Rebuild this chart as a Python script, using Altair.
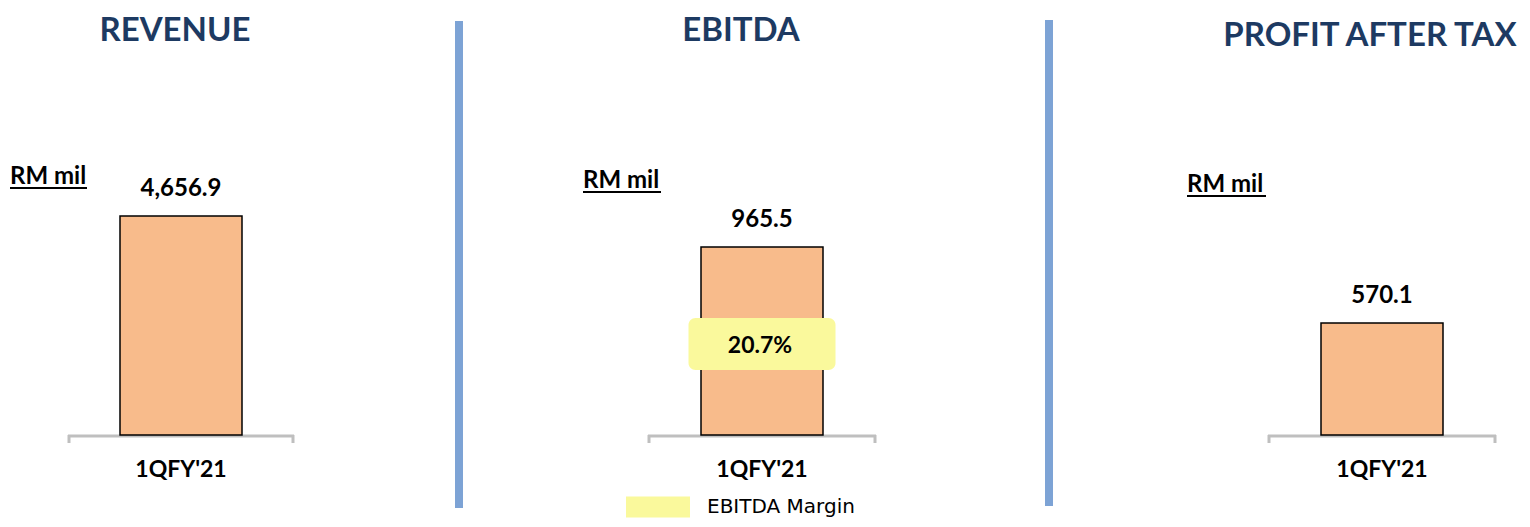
import altair as alt
import pandas as pd

# ---------------- data ----------------
panels = ["REVENUE", "EBITDA", "PROFIT AFTER TAX"]
periods = ["1QFY'21"]
revenue = [4656.9]
ebitda = [965.5]
profit_after_tax = [570.1]
revenue_labels = ["4,656.9"]
ebitda_labels = ["965.5"]
pat_labels = ["570.1"]
ebitda_margin = [20.7]
ebitda_margin_labels = ["20.7%"]
legend_labels = ["EBITDA Margin"]
unit_label = "RM mil"

# ---------------- styling / layout ----------------
FONT = "Lato"
NAVY = "#1D3A62"
BAR_FILL = "#F8BB8B"
YELLOW = "#FAF99C"
DIVIDER = "#7DA3D5"
BRACKET = "#BFBFBF"
BASE_Y = 427

layout = {
    "REVENUE": dict(x0=60, x1=286, ymax=9080, tx=167, ty=33, ux0=2, ux1=79, uy=176),
    "EBITDA": dict(x0=640, x1=868, ymax=2193, tx=733, ty=33, ux0=575, ux1=653, uy=180),
    "PROFIT AFTER TAX": dict(x0=1260, x1=1488, ymax=2175, tx=1362, ty=38, ux0=1179, ux1=1258, uy=184),
}

one = pd.DataFrame({"k": [0]})


def panel(name, values, labels, extra=None):
    L = layout[name]
    df = pd.DataFrame({"period": periods, "value": values, "label": labels})
    xenc = alt.X("period:N", axis=None,
                 scale=alt.Scale(range=[L["x0"], L["x1"]], paddingInner=0, paddingOuter=0))
    yenc = alt.Y("value:Q", axis=None,
                 scale=alt.Scale(domain=[0, L["ymax"]], range=[BASE_Y, 0], nice=False, zero=True))
    base = alt.Chart(df).encode(x=xenc, y=yenc)

    bars = base.mark_bar(size=122, fill=BAR_FILL, stroke="#000000", strokeWidth=1.5)
    vals = base.mark_text(dy=-20, baseline="alphabetic", font=FONT, fontWeight="bold",
                          fontSize=24, color="#000000").encode(text="label:N")
    cats = alt.Chart(df).mark_text(baseline="alphabetic", font=FONT, fontWeight="bold",
                                   fontSize=23, color="#000000").encode(
        x=xenc, y=alt.value(469), text="period:N")

    bracket = alt.Chart(one).mark_rule(color=BRACKET, strokeWidth=3).encode(
        x=alt.value(L["x0"]), x2=alt.value(L["x1"]), y=alt.value(BASE_Y + 1))
    tick_l = alt.Chart(one).mark_rule(color=BRACKET, strokeWidth=3).encode(
        x=alt.value(L["x0"] + 1), y=alt.value(BASE_Y), y2=alt.value(BASE_Y + 8))
    tick_r = alt.Chart(one).mark_rule(color=BRACKET, strokeWidth=3).encode(
        x=alt.value(L["x1"] - 1), y=alt.value(BASE_Y), y2=alt.value(BASE_Y + 8))

    title = alt.Chart(pd.DataFrame({"t": [name]})).mark_text(
        baseline="alphabetic", align="center", font=FONT, fontWeight="bold", fontSize=33,
        color=NAVY).encode(x=alt.value(L["tx"]), y=alt.value(L["ty"]), text="t:N")

    unit = alt.Chart(pd.DataFrame({"u": [unit_label]})).mark_text(
        baseline="alphabetic", align="left", font=FONT, fontWeight="bold", fontSize=24,
        color="#000000").encode(x=alt.value(L["ux0"]), y=alt.value(L["uy"]), text="u:N")
    underline = alt.Chart(one).mark_rule(color="#000000", strokeWidth=2).encode(
        x=alt.value(L["ux0"]), x2=alt.value(L["ux1"]), y=alt.value(L["uy"] + 4))

    layers = [bracket, tick_l, tick_r, bars, vals, cats, title, unit, underline]
    if extra is not None:
        layers += extra(xenc)
    return alt.layer(*layers)


def ebitda_extra(xenc):
    dm = pd.DataFrame({"period": periods, "margin": ebitda_margin,
                       "label": ebitda_margin_labels, "series": legend_labels})
    box = alt.Chart(dm).mark_bar(size=147, cornerRadius=7).encode(
        x=xenc, y=alt.value(310), y2=alt.value(362),
        color=alt.Color("series:N", scale=alt.Scale(domain=legend_labels, range=[YELLOW]),
                        legend=alt.Legend(title=None, orient="none", legendX=618, legendY=467,
                                          symbolType="M-1,-0.33H1V0.33H-1Z", symbolSize=4096,
                                          symbolStrokeWidth=0, symbolOpacity=1,
                                          labelFont="DejaVu Sans", labelFontSize=20,
                                          labelColor="#000000", labelOffset=17)))
    txt = alt.Chart(dm).mark_text(baseline="alphabetic", font=FONT, fontWeight="bold",
                                  fontSize=23, color="#000000", dx=-2).encode(
        x=xenc, y=alt.value(345), text="label:N")
    return [box, txt]


div1 = alt.Chart(one).mark_rule(color=DIVIDER, strokeWidth=8).encode(
    x=alt.value(451), y=alt.value(13), y2=alt.value(500))
div2 = alt.Chart(one).mark_rule(color=DIVIDER, strokeWidth=8).encode(
    x=alt.value(1041), y=alt.value(12), y2=alt.value(498))

p1 = panel("REVENUE", revenue, revenue_labels)
p2 = panel("EBITDA", ebitda, ebitda_labels, ebitda_extra)
p3 = panel("PROFIT AFTER TAX", profit_after_tax, pat_labels)

chart = alt.layer(div1, div2, p1, p2, p3).resolve_scale(
    x="independent", y="independent"
).properties(
    width=1514, height=511, padding=0,
    autosize=alt.AutoSizeParams(type="none"),
    background="#FFFFFF",
).configure_view(stroke=None)

chart.save("out.html", embed_options={"renderer": "svg", "actions": False})
